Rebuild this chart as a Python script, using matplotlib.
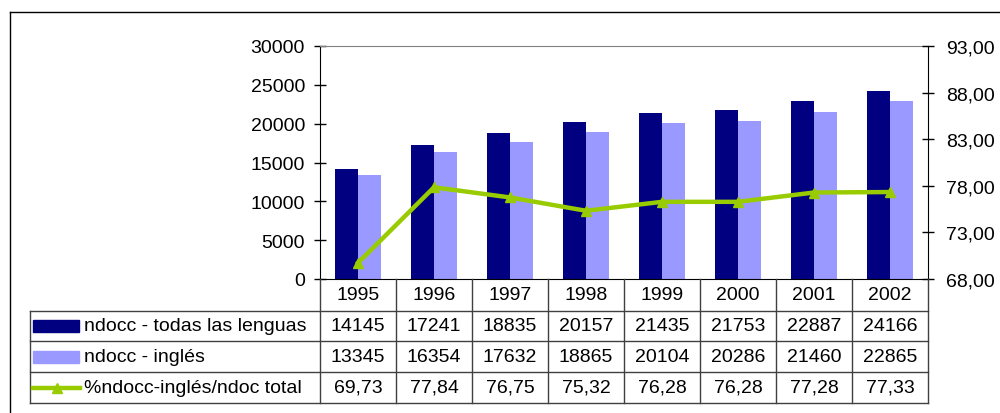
import matplotlib
matplotlib.use('Agg')

import matplotlib.pyplot as plt
import matplotlib.transforms as mtransforms
from matplotlib.lines import Line2D
from matplotlib.patches import Rectangle

plt.rcParams['font.family'] = ['Liberation Sans', 'DejaVu Sans']

years = ['1995', '1996', '1997', '1998', '1999', '2000', '2001', '2002']
ndocc_total = [14145, 17241, 18835, 20157, 21435, 21753, 22887, 24166]
ndocc_ingles = [13345, 16354, 17632, 18865, 20104, 20286, 21460, 22865]
pct_ingles = [69.73, 77.84, 76.75, 75.32, 76.28, 76.28, 77.28, 77.33]

series_labels = ['ndocc - todas las lenguas', 'ndocc - inglés', '%ndocc-inglés/ndoc total']
left_ticks = [0, 5000, 10000, 15000, 20000, 25000, 30000]
right_ticks = [68, 73, 78, 83, 88, 93]

dark = '#000080'
light = '#9999FF'
green = '#99CC00'
fs = 14

W, H = 1000, 414
fig = plt.figure(figsize=(W / 100, H / 100), dpi=100)

# plot area in pixels: x 320..928, y 47..280
ax = fig.add_axes([320 / W, 1 - 280 / H, 608 / W, 233 / H])
x = list(range(len(years)))
ax.bar([i - 0.15 for i in x], ndocc_total, width=0.30, color=dark, zorder=2)
ax.bar([i + 0.15 for i in x], ndocc_ingles, width=0.30, color=light, zorder=2)
ax.set_xlim(-0.5, len(years) - 0.5)
ax.set_ylim(0, 30000)
ax.set_yticks(left_ticks)
ax.set_yticklabels([str(t) for t in left_ticks], fontsize=fs)
ax.set_xticks([])
ax.tick_params(axis='y', direction='inout', length=8.5, width=1, pad=6.5)
ax.spines['top'].set_color('#808080')
ax.spines['bottom'].set_color('black')
ax.spines['right'].set_visible(False)

ax2 = ax.twinx()
ax2.plot(x, pct_ingles, color=green, lw=3.2, marker='^', markersize=7, zorder=3)
ax2.set_ylim(68, 93)
ax2.set_yticks(right_ticks)
ax2.set_yticklabels(['%d,00' % t for t in right_ticks], fontsize=fs)
ax2.tick_params(axis='y', direction='inout', length=8.5, width=1, pad=8.5)
ax2.spines['top'].set_visible(False)
ax2.spines['left'].set_visible(False)
ax2.spines['bottom'].set_visible(False)
ax2.set_xlim(-0.5, len(years) - 0.5)

# data table below the plot area
trans = mtransforms.blended_transform_factory(ax.transData, fig.transFigure)
line_c = '#404040'


def fy(py):
    return 1 - py / H


row_edges = [280, 312, 342, 373, 404]
edges = [i - 0.5 for i in range(len(years) + 1)]

# column lines
for e in edges:
    fig.add_artist(Line2D([e, e], [fy(280), fy(404)], transform=trans, color=line_c, lw=1))
# row lines
for r in row_edges[1:]:
    fig.add_artist(Line2D([30 / W, 928 / W], [fy(r), fy(r)], transform=fig.transFigure,
                          color=line_c, lw=1))
fig.add_artist(Line2D([30 / W, 30 / W], [fy(312), fy(404)], transform=fig.transFigure,
                      color=line_c, lw=1))

# year labels
for i, yr in enumerate(years):
    fig.text(i, fy(296), yr, transform=trans, ha='center', va='center', fontsize=fs)

rows = [ndocc_total, ndocc_ingles, ['%.2f' % v for v in pct_ingles]]
for r, vals in enumerate(rows):
    yc = fy((row_edges[r + 1] + row_edges[r + 2]) / 2)
    for i, v in enumerate(vals):
        s = str(v).replace('.', ',')
        fig.text(i, yc, s, transform=trans, ha='center', va='center', fontsize=fs)
    fig.text(84 / W, yc, series_labels[r], ha='left', va='center', fontsize=fs)

# legend keys
for r, col in enumerate([dark, light]):
    yc = (row_edges[r + 1] + row_edges[r + 2]) / 2
    fig.add_artist(Rectangle((33 / W, fy(yc + 6)), 46 / W, 12 / H,
                             transform=fig.transFigure, color=col))
yc = fy((row_edges[3] + row_edges[4]) / 2)
fig.add_artist(Line2D([33 / W, 80 / W], [yc, yc], transform=fig.transFigure,
                      color=green, lw=3.2))
fig.add_artist(Line2D([57 / W], [yc], transform=fig.transFigure, color=green,
                      marker='^', markersize=7))

# outer frame
fig.add_artist(Line2D([10 / W, 1], [fy(13), fy(13)], transform=fig.transFigure, color='black', lw=1))
fig.add_artist(Line2D([10 / W, 10 / W], [fy(13), 0], transform=fig.transFigure, color='black', lw=1))

fig.savefig('out.png', dpi=100, facecolor='white')
plt.close(fig)
